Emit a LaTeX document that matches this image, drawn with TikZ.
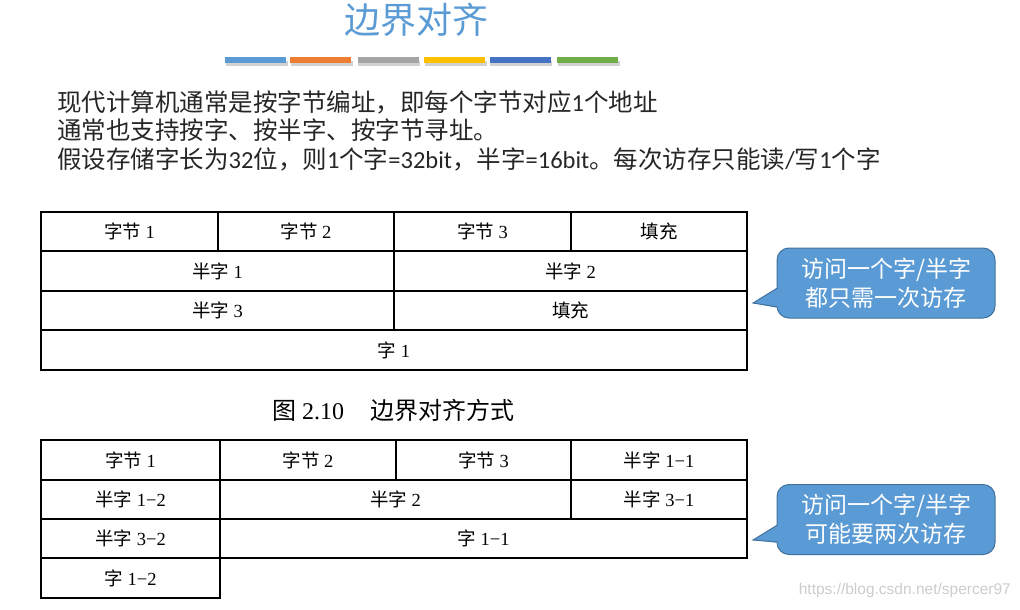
\documentclass[tikz,border=0pt]{standalone}
\usepackage{fontspec}
\setmainfont{Liberation Serif}
\newfontfamily\cjk{Noto Sans CJK SC}
\newfontfamily\lat{Carlito}
\newfontfamily\wmfont{Liberation Sans}
\definecolor{titleblue}{HTML}{5B9BD5}
\definecolor{barA}{HTML}{5B9BD5}
\definecolor{barB}{HTML}{ED7D31}
\definecolor{barC}{HTML}{A5A5A5}
\definecolor{barD}{HTML}{FFC000}
\definecolor{barE}{HTML}{4472C4}
\definecolor{barF}{HTML}{70AD47}
\definecolor{calloutfill}{HTML}{5B9BD5}
\definecolor{calloutline}{HTML}{41719C}
\definecolor{hdrtext}{HTML}{262626}
\begin{document}
\begin{tikzpicture}[x=1pt,y=-1pt,
  cell/.style={draw=black, line width=1.4pt, inner sep=0pt, font=\fontsize{18.5}{20}\selectfont},
  callbox/.style={draw=calloutline, line width=1pt, fill=calloutfill, rounded corners=12pt,
    minimum width=218pt, minimum height=70pt, text=white, align=center,
    font=\cjk\fontsize{23}{29}\selectfont},
  hdr/.style={anchor=west, inner sep=0pt, text=hdrtext, font=\cjk\fontsize{24.5}{28}\selectfont},
  bar/.style={minimum width=61pt, minimum height=6pt, inner sep=0pt},
  barshadow/.style={fill=black!18},
  tail/.style={fill=calloutfill},
  tailline/.style={draw=calloutline, line width=1pt}
]
\useasboundingbox (0,0) rectangle (1020,610);

% title
\node[text=titleblue, font=\cjk\fontsize{36}{40}\selectfont, inner sep=0pt] (title) at (416,20) {边界对齐};

% bars
\foreach \cx/\c [count=\i] in {255.5/barA,320.5/barB,388/barC,454.5/barD,520/barE,587.5/barF}{
  \fill[barshadow] (\cx-30,61) rectangle (\cx+32,66);
  \node[bar, fill=\c] (bar\i) at (\cx,60) {};
}

% header text
\node[hdr] (line1) at (57,102) {现代计算机通常是按字节编址，即每个字节对应{\lat 1}个地址};
\node[hdr] (line2) at (57,130) {通常也支持按字、按半字、按字节寻址。};
\node[hdr] (line3) at (57,159) {假设存储字长为{\lat 32}位，则{\lat 1}个字{\lat =32bit}，半字{\lat =16bit}。每次访存只能读{\lat /}写{\lat 1}个字};

% table 1
\node[cell, minimum width=177pt, minimum height=39pt] (t1a) at (129.5,231.5) {{\cjk 字节} 1};
\node[cell, minimum width=176pt, minimum height=39pt] (t1b) at (306,231.5) {{\cjk 字节} 2};
\node[cell, minimum width=177pt, minimum height=39pt] (t1c) at (482.5,231.5) {{\cjk 字节} 3};
\node[cell, minimum width=176pt, minimum height=39pt] (t1d) at (659,231.5) {{\cjk 填充}};
\node[cell, minimum width=353pt, minimum height=40pt] (t1e) at (217.5,271) {{\cjk 半字} 1};
\node[cell, minimum width=353pt, minimum height=40pt] (t1f) at (570.5,271) {{\cjk 半字} 2};
\node[cell, minimum width=353pt, minimum height=39pt] (t1g) at (217.5,310.5) {{\cjk 半字} 3};
\node[cell, minimum width=353pt, minimum height=39pt] (t1h) at (570.5,310.5) {{\cjk 填充}};
\node[cell, minimum width=706pt, minimum height=40pt] (t1i) at (394,350) {{\cjk 字} 1};

% caption
\node[anchor=west, inner sep=0pt, font=\fontsize{24}{28}\selectfont] (cap) at (272,410) {{\cjk 图} 2.10\hspace{26pt}{\cjk 边界对齐方式}};

% table 2
\node[cell, minimum width=179pt, minimum height=40pt] (t2a) at (130.5,460) {{\cjk 字节} 1};
\node[cell, minimum width=176pt, minimum height=40pt] (t2b) at (308,460) {{\cjk 字节} 2};
\node[cell, minimum width=175pt, minimum height=40pt] (t2c) at (483.5,460) {{\cjk 字节} 3};
\node[cell, minimum width=176pt, minimum height=40pt] (t2d) at (659,460) {{\cjk 半字} 1−1};
\node[cell, minimum width=179pt, minimum height=39pt] (t2e) at (130.5,499.5) {{\cjk 半字} 1−2};
\node[cell, minimum width=351pt, minimum height=39pt] (t2f) at (395.5,499.5) {{\cjk 半字} 2};
\node[cell, minimum width=176pt, minimum height=39pt] (t2g) at (659,499.5) {{\cjk 半字} 3−1};
\node[cell, minimum width=179pt, minimum height=39pt] (t2h) at (130.5,538.5) {{\cjk 半字} 3−2};
\node[cell, minimum width=527pt, minimum height=39pt] (t2i) at (483.5,538.5) {{\cjk 字} 1−1};
\node[cell, minimum width=179pt, minimum height=40pt] (t2j) at (130.5,578) {{\cjk 字} 1−2};

% callout 1
\node[callbox] (call1) at (886,283) {访问一个字/半字\\都只需一次访存};
\coordinate (tip1) at (753,303);
\fill[tail] (779,287) -- (tip1) -- (779,308) -- cycle;
\draw[tailline] (777.5,288) -- (tip1) -- (777.5,307);

% callout 2
\node[callbox] (call2) at (886,519.5) {访问一个字/半字\\可能要两次访存};
\coordinate (tip2) at (753,540);
\fill[tail] (779,524) -- (tip2) -- (779,543) -- cycle;
\draw[tailline] (777.5,525) -- (tip2) -- (777.5,542);

% watermark
\node[anchor=east, inner sep=0pt, text=black!20, font=\wmfont\fontsize{15.5}{17}\selectfont] (wm) at (1011,590) {https://blog.csdn.net/spercer97};
\end{tikzpicture}
\end{document}
